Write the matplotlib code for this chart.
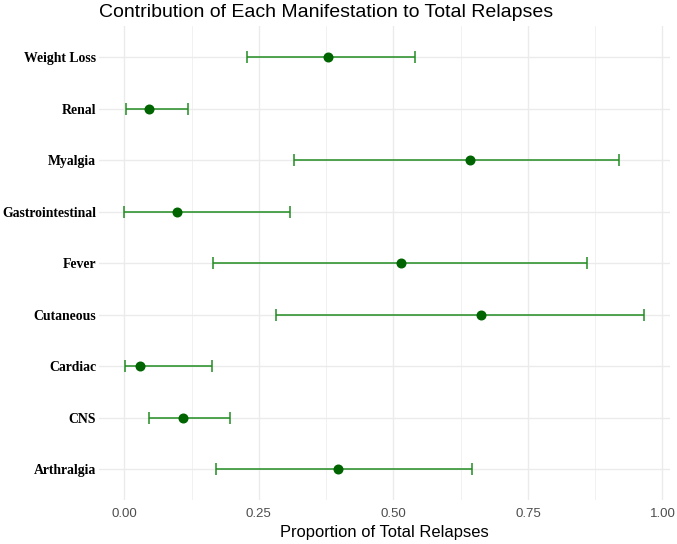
import matplotlib.pyplot as plt
from matplotlib.ticker import MultipleLocator

# manifestations, listed bottom to top as they appear on the y axis
manifestations = ['Arthralgia', 'CNS', 'Cardiac', 'Cutaneous', 'Fever',
                  'Gastrointestinal', 'Myalgia', 'Renal', 'Weight Loss']
proportion = [0.397, 0.110, 0.029, 0.663, 0.515, 0.098, 0.643, 0.046, 0.379]
lower = [0.170, 0.045, 0.001, 0.281, 0.164, 0.000, 0.315, 0.003, 0.228]
upper = [0.646, 0.196, 0.163, 0.966, 0.860, 0.307, 0.919, 0.118, 0.541]

x_ticks = [0.0, 0.25, 0.5, 0.75, 1.0]
x_tick_labels = ['0.00', '0.25', '0.50', '0.75', '1.00']

fig = plt.figure(figsize=(6.77, 5.44), dpi=100)
ax = fig.add_axes([99 / 677, 44 / 544, 571 / 677, 473.6 / 544])

ypos = list(range(len(manifestations)))
err_lo = [p - l for p, l in zip(proportion, lower)]
err_hi = [u - p for p, u in zip(proportion, upper)]

# error bars then points on top
ax.errorbar(proportion, ypos, xerr=[err_lo, err_hi], fmt='none',
            ecolor='#228B22', elinewidth=1.1, capsize=4.5, capthick=1.1, zorder=3)
ax.plot(proportion, ypos, 'o', color='#006400', markersize=6.2, zorder=4)

ax.set_xlim(-0.047, 1.014)
ax.set_ylim(-0.6, len(manifestations) - 0.4)
ax.set_xticks(x_ticks)
ax.set_xticklabels(x_tick_labels)
ax.xaxis.set_minor_locator(MultipleLocator(0.125))
ax.set_yticks(ypos)
ax.set_yticklabels(manifestations, fontfamily='Liberation Serif',
                   fontweight='bold', fontsize=9.9, color='black')

# ggplot minimal look
for s in ax.spines.values():
    s.set_visible(False)
ax.grid(which='major', color='#EBEBEB', linewidth=1.0)
ax.grid(which='minor', axis='x', color='#EBEBEB', linewidth=0.5)
ax.set_axisbelow(True)
ax.tick_params(which='both', length=0)
ax.tick_params(axis='y', pad=2)
ax.tick_params(axis='x', pad=6, labelsize=9.5, labelcolor='#4D4D4D')
for lbl in ax.get_xticklabels():
    lbl.set_fontfamily('Liberation Sans')

ax.set_xlabel('Proportion of Total Relapses', fontfamily='Liberation Sans',
              fontsize=11.9, labelpad=3)
fig.text(99 / 677, 1 - 17 / 544, 'Contribution of Each Manifestation to Total Relapses',
         fontfamily='Liberation Sans', fontsize=14, ha='left', va='baseline')

fig.savefig('out.png', dpi=100)
